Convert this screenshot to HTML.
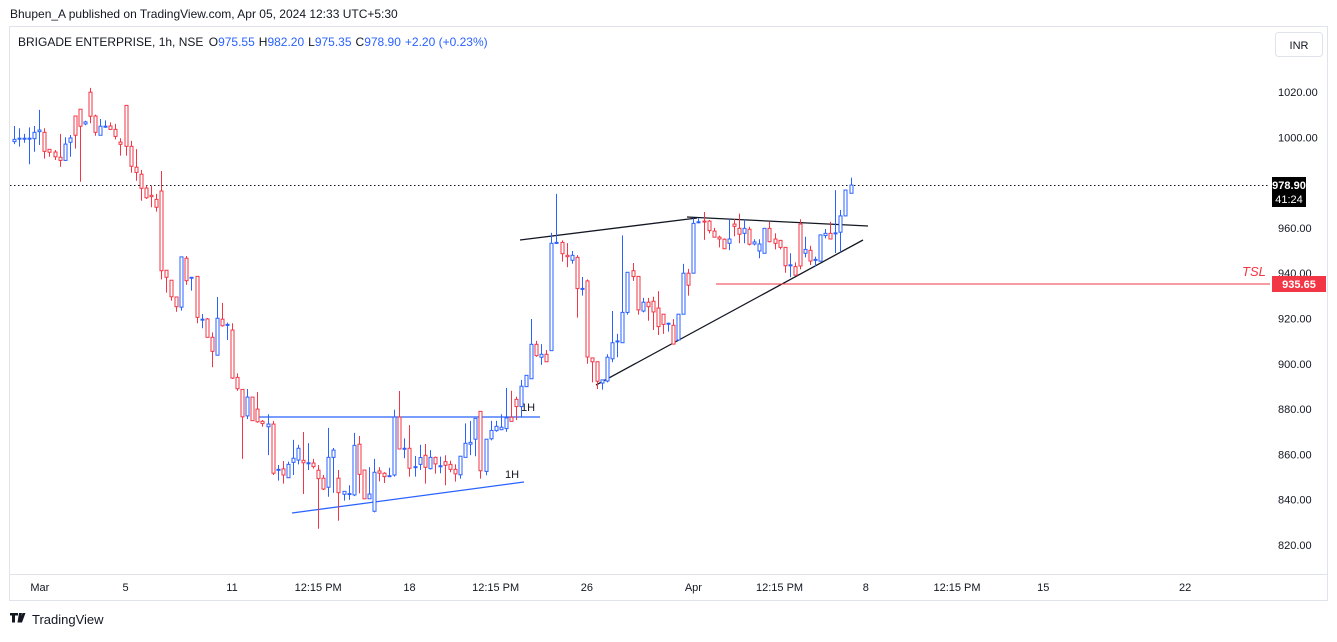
<!DOCTYPE html>
<html><head><meta charset="utf-8">
<style>
body{margin:0;background:#fff;width:1337px;height:637px;overflow:hidden;font-family:"Liberation Sans",sans-serif;}
svg text{font-family:"Liberation Sans",sans-serif;}
</style></head>
<body>
<svg id="chart" width="1337" height="637" xmlns="http://www.w3.org/2000/svg">
<text x="10" y="18" font-size="12" fill="#131722">Bhupen_A published on TradingView.com, Apr 05, 2024 12:33 UTC+5:30</text>
<rect x="9.5" y="26.5" width="1318" height="574" fill="none" stroke="#e0e3eb"/>
<line x1="10" y1="574.5" x2="1327" y2="574.5" stroke="#e0e3eb"/>
<text x="18" y="46" font-size="12" fill="#131722">BRIGADE ENTERPRISE, 1h, NSE <tspan dx="2">O</tspan><tspan fill="#2962ff">975.55</tspan><tspan dx="4">H</tspan><tspan fill="#2962ff">982.20</tspan><tspan dx="4">L</tspan><tspan fill="#2962ff">975.35</tspan><tspan dx="4">C</tspan><tspan fill="#2962ff">978.90</tspan><tspan dx="4" fill="#2962ff">+2.20 (+0.23%)</tspan></text>
<g><rect x="1275.5" y="32.5" width="47" height="24" rx="3" fill="#fff" stroke="#e0e3eb"/><text x="1299" y="49" font-size="11" text-anchor="middle" fill="#131722">INR</text></g>
<g id="yaxis"></g>
<g id="xaxis"></g>
<line x1="10" y1="185.5" x2="1270" y2="185.5" stroke="#131722" stroke-dasharray="1.5,2.5"/>
<g id="draw"></g>
<g id="candles"></g>
<g><rect x="1272" y="177" width="34" height="30" fill="#000"/><text x="1289" y="189" font-size="11" font-weight="bold" fill="#fff" text-anchor="middle">978.90</text><text x="1289" y="203" font-size="11" fill="#fff" text-anchor="middle">41:24</text></g>
<text x="1242" y="276" font-size="13" font-style="italic" fill="#f23645">TSL</text>
<g><rect x="1272" y="276" width="54" height="16" fill="#f23645"/><text x="1299" y="288" font-size="11" font-weight="bold" fill="#fff" text-anchor="middle">935.65</text></g>
<g><path d="M10 613h8v2.5h-3v7h-3v-7h-2z M19 613h3l-2 9.5h-2.5z M22.5 613h3l-3.5 9.5h-3z" fill="#131722"/><text x="32" y="624" font-size="13" fill="#131722">TradingView</text></g>
</svg>
<script>
const opens=[998.1,999.6,999.6,999.6,999.4,1002.5,1002.2,994.7,993.5,991.2,989.8,997.8,1009.4,1012.4,1005.9,1019.9,1009.4,1000.9,1004.9,1005.0,1003.5,997.9,1014.1,996.0,986.8,983.7,977.6,974.4,972.6,976.3,941.3,936.9,929.5,925.0,946.6,938.2,938.6,919.7,919.8,911.7,903.8,919.7,917.4,914.9,894.0,888.7,877.0,885.3,880.0,874.6,872.2,873.4,853.4,853.6,849.7,856.5,857.5,857.4,856.3,856.2,853.0,849.5,845.5,858.7,849.5,842.4,842.7,842.1,864.5,853.1,840.4,834.9,852.7,851.7,850.6,850.9,876.5,862.7,862.7,854.6,855.6,859.6,853.7,858.7,855.0,856.8,855.6,853.4,851.0,858.7,864.5,866.7,879.0,852.5,866.9,870.5,870.9,871.4,876.4,884.3,881.1,889.9,893.4,908.6,902.9,904.2,905.8,953.6,953.6,947.9,945.7,947.0,933.3,936.6,902.6,900.9,891.5,892.4,902.2,910.1,909.3,922.7,941.1,938.6,923.3,927.2,927.6,924.6,921.9,917.9,917.0,910.5,921.9,940.0,940.0,962.7,963.0,963.0,958.6,955.9,955.0,953.2,961.7,959.8,957.6,959.4,952.9,949.8,948.8,959.8,955.1,954.5,951.4,943.7,942.9,961.7,948.8,950.1,946.1,945.3,956.6,957.6,957.8,958.1,965.3,975.3];
const highs=[1005.0,1004.0,1001.5,1004.4,1005.0,1012.1,1004.0,994.7,994.4,1001.5,1000.0,1001.0,1009.4,1012.4,1007.3,1021.8,1010.0,1008.1,1007.5,1006.6,1005.9,999.6,1014.1,998.4,994.8,985.6,978.8,978.5,975.0,985.1,941.4,937.0,929.5,947.2,947.6,938.2,938.6,922.0,920.2,913.9,929.5,926.9,918.2,917.9,895.8,888.7,888.9,885.3,887.5,875.2,877.7,874.8,855.3,857.1,856.8,866.4,864.2,869.9,865.0,858.0,855.3,850.9,871.7,862.8,853.1,843.7,846.4,869.5,868.1,853.1,854.4,858.0,854.4,852.2,854.1,879.7,888.0,867.1,872.9,859.3,864.2,864.6,861.9,859.0,859.0,859.6,857.2,855.6,859.2,873.7,874.8,875.9,879.0,866.7,874.8,874.8,877.7,889.3,888.1,885.5,892.9,894.9,919.8,910.1,908.7,906.1,957.8,975.0,954.5,953.3,949.8,948.0,938.3,937.3,902.6,900.7,892.9,904.2,923.3,913.2,956.7,940.4,944.5,938.6,929.1,929.1,929.6,932.1,921.9,918.2,919.7,921.9,944.1,941.9,964.2,964.2,967.0,963.5,960.0,956.6,955.4,963.9,963.9,966.3,963.9,960.5,955.0,955.0,959.8,962.7,957.6,954.5,951.4,948.8,944.8,963.8,956.1,952.1,947.3,956.9,959.5,962.7,976.7,967.9,976.7,982.2];
const lows=[997.0,995.9,997.6,988.1,993.6,996.6,990.6,991.4,990.0,987.0,989.8,991.4,995.0,980.4,1005.3,1006.2,1000.7,1000.9,1004.2,1003.2,999.1,991.9,991.9,984.4,980.8,972.0,972.8,969.1,967.2,937.3,931.4,927.9,923.0,923.5,934.9,932.3,917.9,915.7,911.7,898.5,903.8,916.4,910.5,893.3,888.1,858.0,875.6,874.9,874.0,872.2,859.7,850.9,848.4,847.1,849.7,850.9,855.6,842.5,853.1,853.7,827.2,844.3,841.3,843.0,830.7,839.6,839.9,841.6,842.8,840.4,840.4,834.4,848.1,847.4,850.2,850.2,862.2,858.3,850.2,850.2,853.1,847.1,853.4,851.5,851.7,846.4,852.1,848.0,849.3,858.7,859.7,859.2,849.3,850.8,866.2,870.0,870.8,870.0,874.6,875.2,876.6,889.9,893.4,903.1,899.5,900.9,905.8,952.9,945.1,942.7,944.2,920.4,930.1,900.0,891.8,888.9,888.6,891.8,900.7,902.9,909.3,921.7,936.6,921.7,922.7,919.0,914.9,912.7,913.2,914.2,908.7,910.5,921.9,930.1,940.0,962.0,954.7,957.6,955.9,951.4,950.8,950.2,956.3,953.2,953.2,952.3,952.3,946.6,948.8,953.6,950.5,950.5,940.2,938.2,939.1,941.7,947.0,943.6,942.9,945.3,955.4,955.1,948.9,949.2,965.3,975.3];
const closes=[999.1,999.6,999.6,999.6,1002.2,1003.2,993.8,993.4,991.4,989.8,997.0,999.7,1000.9,1004.9,1006.8,1009.3,1002.2,1004.9,1004.9,1003.5,1000.4,996.9,996.0,987.2,984.5,977.5,973.3,973.8,969.1,941.1,938.2,929.6,925.2,947.2,936.7,938.2,920.5,919.7,911.7,905.5,920.1,916.8,917.4,893.7,889.0,876.6,885.3,874.9,874.4,873.6,873.4,851.7,853.4,850.9,855.6,858.3,862.7,856.3,856.3,854.6,849.3,844.7,858.7,861.9,843.1,843.7,842.7,864.0,851.2,840.4,842.5,852.1,851.7,850.2,850.6,876.5,862.4,862.7,853.9,854.6,858.6,854.3,858.7,855.8,855.0,855.2,853.4,851.4,859.2,864.9,865.3,875.9,852.8,866.7,870.6,872.4,872.0,876.1,874.6,881.1,890.1,894.9,908.6,903.6,904.2,900.9,953.2,953.6,948.6,947.3,947.9,933.2,933.3,903.0,900.9,892.3,892.9,902.9,909.3,910.1,922.7,940.4,938.5,923.8,927.2,925.2,922.9,916.4,917.4,917.9,908.7,921.9,940.0,934.7,962.0,962.7,962.6,958.8,955.9,955.1,950.8,955.1,960.7,957.2,959.8,952.8,953.8,952.9,959.8,953.9,953.2,951.4,943.3,943.7,939.1,943.2,950.5,945.4,946.1,956.9,957.6,955.1,957.8,965.3,976.7,978.9];
const priceTicks=[1020,1000,980,960,940,920,900,880,860,840,820];
const timeLabels=["Mar","5","11","12:15 PM","18","12:15 PM","26","Apr","12:15 PM","8","12:15 PM","15","22"];
const timeLabelIdx=[5.1,22,43,60,78,95,113,134,151,168,186,203,231];

const NS="http://www.w3.org/2000/svg";
function yScale(p){return 92+(1020-p)*2.265;}
function xScale(i){return 14+i*5.07;}
function mk(tag,attrs,parent){const e=document.createElementNS(NS,tag);for(const k in attrs)e.setAttribute(k,attrs[k]);parent.appendChild(e);return e;}

const ya=document.getElementById('yaxis');
priceTicks.forEach(p=>{
  if(p===980)return;
  const t=mk('text',{x:1278,y:yScale(p)+4,'font-size':11,fill:'#131722'},ya);
  
  
  t.textContent=p.toFixed(2);
});
const xa=document.getElementById('xaxis');
timeLabels.forEach((l,k)=>{
  const t=mk('text',{x:xScale(timeLabelIdx[k]),y:591,'font-size':11,fill:'#131722','text-anchor':'middle'},xa);
  
  
  t.textContent=l;
});

const cg=document.getElementById('candles');
for(let i=0;i<closes.length;i++){
  const up=closes[i]>=opens[i];
  const col=up?'#2962ff':'#f23645';
  const x=Math.round(xScale(i))+0.5;
  const g=mk('g',{},cg);
  
  
  const top=yScale(Math.max(opens[i],closes[i])), bot=yScale(Math.min(opens[i],closes[i]));
  mk('line',{x1:x,x2:x,y1:yScale(highs[i]),y2:top,stroke:col,'stroke-width':1},g);
  mk('line',{x1:x,x2:x,y1:bot,y2:yScale(lows[i]),stroke:col,'stroke-width':1},g);
  mk('rect',{x:x-1.5,y:top,width:3,height:Math.max(bot-top,1),fill:'#fff',stroke:col,'stroke-width':1},g);
}

const dg=document.getElementById('draw');
function ln(name,x1,y1,x2,y2,col,w){const l=mk('line',{x1,y1,x2,y2,stroke:col,'stroke-width':w},dg);return l;}
ln('resistance-line-1h',258,417,540,417,'#2962ff',1.3);
ln('support-trendline-1h',292,513,524,482,'#2962ff',1.3);
ln('triangle-upper-line-left',520,240,697,218,'#131722',1.3);
ln('triangle-upper-line-right',687,217,868,226,'#131722',1.3);
ln('triangle-lower-trendline',596,385,863,240,'#131722',1.3);
ln('tsl-line',716,284,1270,284,'#f23645',1);
const t1=mk('text',{x:521,y:411,'font-size':11,fill:'#131722'},dg);


t1.textContent='1H';
const t2=mk('text',{x:505,y:478,'font-size':11,fill:'#131722'},dg);


t2.textContent='1H';
</script>
</body></html>
